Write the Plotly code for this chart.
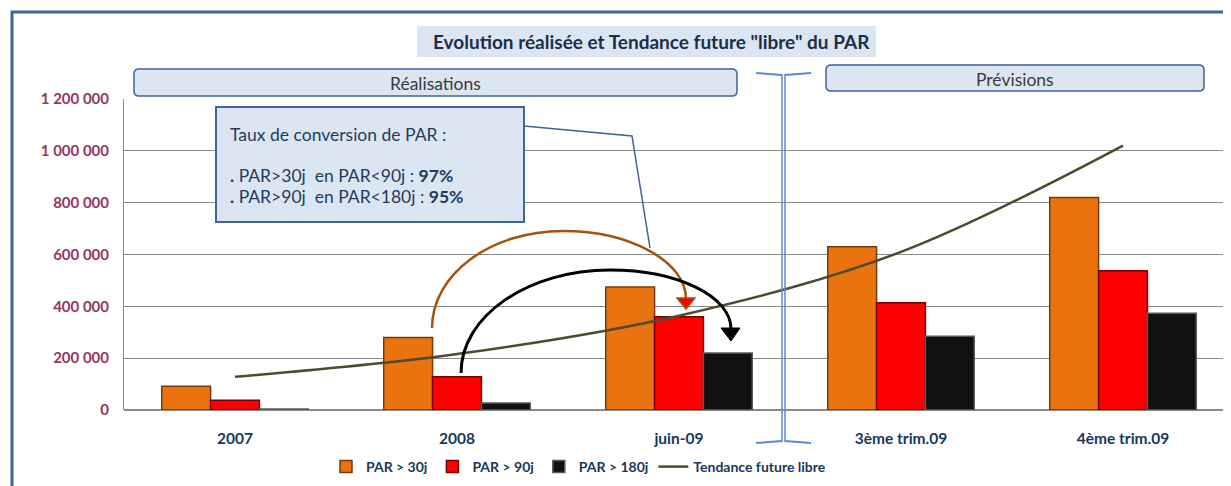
import plotly.graph_objects as go

categories = ["2007", "2008", "juin-09", "3ème trim.09", "4ème trim.09"]
par30 = [92000, 280000, 475000, 630000, 820000]
par90 = [38000, 128000, 360000, 414000, 537000]
par180 = [4000, 27000, 220000, 285000, 373000]
trend = [128000, 216000, 364000, 610000, 1020000]
series_names = ["PAR > 30j", "PAR > 90j", "PAR > 180j", "Tendance future libre"]
y_tick_vals = [0, 200000, 400000, 600000, 800000, 1000000, 1200000]
y_tick_text = ["0", "200 000", "400 000", "600 000", "800 000", "1 000 000", "1 200 000"]

OFF = 8  # page body margin
W, H = 1231 - OFF, 486 - OFF
# plot area in screen pixels
SL, SR, ST, SB = 124, 1231, 99, 410
FONT = "Lato"
NAVY = "#17375E"
FRAME = "#3F6496"
BOXFILL = "#DCE6F2"


def xp(x):
    return (x - SL) / (SR - SL)


def yp(y):
    return (SB - y) / (SB - ST)


fig = go.Figure()
bar_styles = [
    (par30, "#E8730F", "#7A3A08"),
    (par90, "#FF0000", "#7A0000"),
    (par180, "#111111", "#5A5A5A"),
]
for (vals, col, edge), name in zip(bar_styles, series_names[:3]):
    fig.add_trace(go.Bar(
        x=categories, y=vals, name=name,
        marker=dict(color=col, line=dict(color=edge, width=1.5)),
    ))

fig.add_trace(go.Scatter(
    x=categories, y=trend, name=series_names[3], mode="lines",
    line=dict(color="#4F4A2E", width=2.5, shape="spline"),
))

shapes = []
# outer frame
shapes.append(dict(type="rect", xref="paper", yref="paper",
                   x0=xp(12), x1=xp(1250), y0=yp(12), y1=yp(505),
                   line=dict(color=FRAME, width=3), fillcolor="rgba(0,0,0,0)", layer="below"))
# title box
shapes.append(dict(type="rect", xref="paper", yref="paper",
                   x0=xp(417), x1=xp(876), y0=yp(26), y1=yp(57),
                   line=dict(width=0), fillcolor=BOXFILL))


def rrect(x0, y0, x1, y1, r=5):
    return (f"M {xp(x0 + r)},{yp(y0)} L {xp(x1 - r)},{yp(y0)} "
            f"Q {xp(x1)},{yp(y0)} {xp(x1)},{yp(y0 + r)} L {xp(x1)},{yp(y1 - r)} "
            f"Q {xp(x1)},{yp(y1)} {xp(x1 - r)},{yp(y1)} L {xp(x0 + r)},{yp(y1)} "
            f"Q {xp(x0)},{yp(y1)} {xp(x0)},{yp(y1 - r)} L {xp(x0)},{yp(y0 + r)} "
            f"Q {xp(x0)},{yp(y0)} {xp(x0 + r)},{yp(y0)} Z")


shapes.append(dict(type="path", xref="paper", yref="paper", path=rrect(134, 69, 737, 96),
                   line=dict(color=FRAME, width=1.5), fillcolor=BOXFILL))
shapes.append(dict(type="path", xref="paper", yref="paper", path=rrect(826, 65, 1204, 91),
                   line=dict(color=FRAME, width=1.5), fillcolor=BOXFILL))
# callout box and pointer
shapes.append(dict(type="rect", xref="paper", yref="paper",
                   x0=xp(216), x1=xp(524), y0=yp(107), y1=yp(222),
                   line=dict(color=FRAME, width=2), fillcolor=BOXFILL))
shapes.append(dict(type="path", xref="paper", yref="paper",
                   path=f"M {xp(524)},{yp(126)} L {xp(632)},{yp(136)} L {xp(650)},{yp(248)}",
                   line=dict(color=FRAME, width=1.5)))
# brown arc + arrowhead
shapes.append(dict(type="path", xref="paper", yref="paper",
                   path=(f"M {xp(432)},{yp(328)} C {xp(432)},{yp(274)} {xp(491)},{yp(231)} {xp(563)},{yp(231)} "
                         f"C {xp(631)},{yp(231)} {xp(686)},{yp(262)} {xp(686)},{yp(299)}"),
                   line=dict(color="#A5520E", width=2.5)))
shapes.append(dict(type="path", xref="paper", yref="paper",
                   path=f"M {xp(677)},{yp(298)} L {xp(695)},{yp(298)} L {xp(686)},{yp(309)} Z",
                   line=dict(color="#A5520E", width=1.5), fillcolor="#FF0000"))
# black arc + arrowhead
shapes.append(dict(type="path", xref="paper", yref="paper",
                   path=(f"M {xp(461)},{yp(373)} C {xp(461)},{yp(316)} {xp(528)},{yp(270)} {xp(610)},{yp(270)} "
                         f"C {xp(677)},{yp(270)} {xp(731)},{yp(296)} {xp(731)},{yp(329)}"),
                   line=dict(color="#000000", width=3)))
shapes.append(dict(type="path", xref="paper", yref="paper",
                   path=f"M {xp(721)},{yp(328)} L {xp(740)},{yp(328)} L {xp(731)},{yp(341)} Z",
                   line=dict(color="#000000", width=1), fillcolor="#000000"))
# separator bracket
BR = "#5B8BCB"
for xv in (782, 785):
    shapes.append(dict(type="line", xref="paper", yref="paper",
                       x0=xp(xv), x1=xp(xv), y0=yp(74), y1=yp(442),
                       line=dict(color=BR, width=1.5)))
for (xa, xb, ya, yb) in [(756, 782, 73, 75), (785, 811, 75, 73), (756, 782, 443, 441), (785, 811, 441, 443)]:
    shapes.append(dict(type="line", xref="paper", yref="paper",
                       x0=xp(xa), x1=xp(xb), y0=yp(ya), y1=yp(yb),
                       line=dict(color=BR, width=2)))

CALLOUT = "#243B5E"
annotations = [
    dict(text="<b>Evolution réalisée et Tendance future \"libre\" du PAR</b>", x=xp(651), y=yp(41),
         font=dict(family=FONT, size=19, color="#1C2E4A")),
    dict(text="Réalisations", x=xp(435), y=yp(83), font=dict(family=FONT, size=17.5, color="#3A3A3A")),
    dict(text="Prévisions", x=xp(1015), y=yp(79), font=dict(family=FONT, size=17.5, color="#3A3A3A")),
    dict(text="Taux de conversion de PAR :", x=xp(228), y=yp(134), xanchor="left",
         font=dict(family=FONT, size=17.5, color=CALLOUT)),
    dict(text="<b>.</b> PAR&gt;30j  en PAR&lt;90j : <b>97%</b>", x=xp(228), y=yp(175), xanchor="left",
         font=dict(family=FONT, size=17.5, color=CALLOUT)),
    dict(text="<b>.</b> PAR&gt;90j  en PAR&lt;180j : <b>95%</b>", x=xp(228), y=yp(196), xanchor="left",
         font=dict(family=FONT, size=17.5, color=CALLOUT)),
]
for a in annotations:
    a.update(xref="paper", yref="paper", showarrow=False)
    a.setdefault("xanchor", "center")
    a.setdefault("yanchor", "middle")

fig.update_layout(
    width=W, height=H,
    margin=dict(l=SL - OFF, r=1231 - SR, t=ST - OFF, b=486 - SB, pad=0),
    paper_bgcolor="white", plot_bgcolor="white",
    barmode="group", bargap=0.34, bargroupgap=0,
    shapes=shapes, annotations=annotations,
    font=dict(family=FONT),
    legend=dict(orientation="h", x=xp(326), y=yp(467), xanchor="left", yanchor="middle",
                font=dict(family=FONT, size=14, color=NAVY, weight="bold"),
                bgcolor="rgba(0,0,0,0)", traceorder="normal"),
    xaxis=dict(range=[-0.5, 4.5 - 3 / 222], showgrid=False, ticks="", ticklabelstandoff=17,
               tickfont=dict(family=FONT, size=15.5, color=NAVY, weight="bold"),
               showline=False, fixedrange=True),
    yaxis=dict(range=[0, 1200000], tickvals=y_tick_vals, ticktext=y_tick_text,
               showgrid=True, gridcolor="#8A8A8A", gridwidth=1,
               zeroline=True, zerolinecolor="#8A8A8A", zerolinewidth=2,
               showline=True, linecolor="#8A8A8A", linewidth=1,
               ticks="", ticklabelstandoff=11,
               tickfont=dict(family=FONT, size=15, color="#953563", weight="bold"),
               fixedrange=True),
)

fig.write_html("out.html")
